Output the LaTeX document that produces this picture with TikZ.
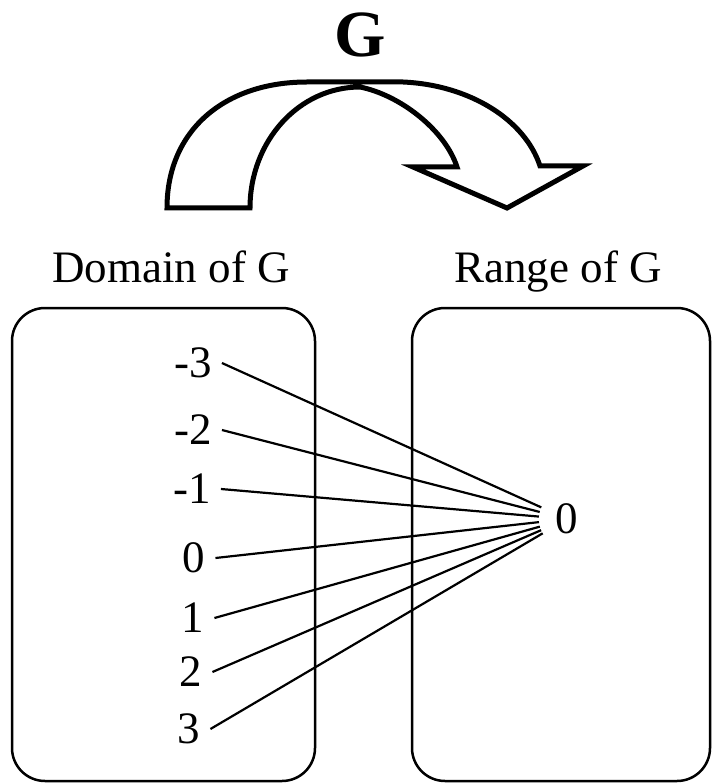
\documentclass[tikz,border=0pt]{standalone}
\usepackage{fontspec}
\setmainfont{Liberation Serif}
\usetikzlibrary{positioning}

\begin{document}
\begin{tikzpicture}[x=1pt,y=-1pt,
			every node/.style={
				font=\fontsize{45}{54}\selectfont
			},
			num/.style={
				inner xsep=10pt,
				inner ysep=2pt
			},
			setbox/.style={
				draw,
				line width=2.5pt,
				rounded corners=33pt,
				minimum height=473pt
			},
			link/.style={
				line width=2.2pt
			}]
			
			\useasboundingbox (0,0) rectangle (711,783);
			
			\node(dom)[setbox,minimum width=303pt] at (163.5,544.5){};
			
			\node(rng)[setbox,minimum width=298pt] at (561,544.5){};
			
			\node(domlabel)[anchor=base] at (171,283){Domain of G};
			
			\node(rnglabel)[anchor=base] at (558,283){Range of G};
			
			\node(fname)[anchor=base,font=\fontsize{66}{70}\selectfont\bfseries] at (360,57){G};
			
			\draw[line width=5pt,line join=miter]
				(167,208) -- (250,208)
				.. controls (250,141) and (299,87) .. (360,87)
				.. controls (400,95) and (445,130) .. (457,167)
				-- (413,167) -- (507,208) -- (583,166) -- (540,166)
				.. controls (525,120) and (470,85) .. (403,82)
				-- (307,82)
				.. controls (225,82) and (167,130) .. cycle;
			
			\node(m3)[num] at (193,363){-3};
			
			\node(m2)[num] at (193,430){-2};
			
			\node(m1)[num] at (192,489){-1};
			
			\node(z0)[num] at (194,558){0};
			
			\node(p1)[num] at (193,618){1};
			
			\node(p2)[num] at (191,672){2};
			
			\node(p3)[num] at (189,729){3};
			
			\node(r0)[circle,inner sep=0pt,minimum size=56pt] at (567,519){0};
			
			\draw[link](m3.east)--(r0);
			
			\draw[link](m2.east)--(r0);
			
			\draw[link](m1.east)--(r0);
			
			\draw[link](z0.east)--(r0);
			
			\draw[link](p1.east)--(r0);
			
			\draw[link](p2.east)--(r0);
			
			\draw[link](p3.east)--(r0);
			
		\end{tikzpicture}
\end{document}
